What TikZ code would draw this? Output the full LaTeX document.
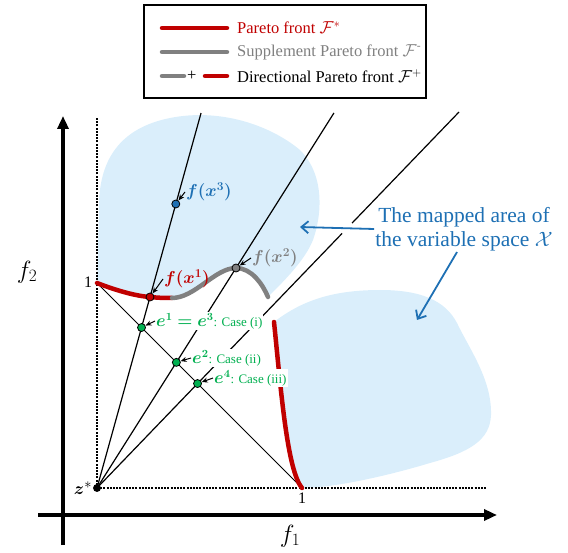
\documentclass[tikz,border=0pt]{standalone}
\usepackage{amsmath}
\usepackage{amssymb}
\usepackage{bm}
\usepackage{fontspec}
\setmainfont{Liberation Serif}
\usepackage{xcolor}
\usepackage{tikz}
\usetikzlibrary{arrows.meta, calc}

\definecolor{pfred}{RGB}{192,0,0}
\definecolor{pfgray}{RGB}{128,128,128}
\definecolor{areablue}{RGB}{218,238,251}
\definecolor{txtblue}{RGB}{30,112,180}
\definecolor{egreen}{RGB}{0,176,80}

\begin{document}
\begin{tikzpicture}[
  x=1pt, y=-1pt,
  >=stealth,
  front/.style={line width=4.5pt, line cap=round},
  ray/.style={line width=1.2pt},
  guide/.style={line width=1.3pt, dash pattern=on 2pt off 1.2pt},
  axisline/.style={line width=3.5pt, -{Triangle[length=13pt, width=11pt]}},
  dot/.style={circle, draw, line width=0.8pt, inner sep=0pt, minimum size=8pt},
  pointer/.style={line width=1pt, -{Stealth[length=6pt, width=5pt]}},
  ptlabel/.style={anchor=west, inner sep=1pt, font=\fontsize{18}{20}\selectfont},
  caselabel/.style={anchor=west, inner sep=1pt, fill=white, text=egreen, font=\fontsize{16}{18}\selectfont},
  maparrow/.style={line width=1.8pt, draw=txtblue, -{Straight Barb[length=7pt, width=12pt]}},
  legtext/.style={anchor=west, inner sep=0pt, font=\fontsize{16.5}{19}\selectfont},
]
  \useasboundingbox (0,0) rectangle (568,553);

  \coordinate (z) at (97,488);
  \coordinate (one1) at (302,488);
  \coordinate (one2) at (97,283);
  \coordinate (fx1) at (150,297);
  \coordinate (fx2) at (236,268);
  \coordinate (fx3) at ($(z)!1.487!(fx1)$);
  \coordinate (r3) at (459,112);

  % mapped areas
  \fill[areablue] (one2) -- (99,210) .. controls (98,160) and (120,128) .. (170,118)
    .. controls (220,108) and (270,125) .. (300,150)
    .. controls (325,175) and (322,215) .. (313,240)
    .. controls (305,260) and (285,280) .. (268,297)
    .. controls (263,285) and (252,268) .. (fx2)
    .. controls (215,268) and (195,298) .. (172,298)
    .. controls (166,298) and (160,298) .. (fx1)
    .. controls (135,296) and (115,290) .. (one2) -- cycle;
  \fill[areablue] (274,322) .. controls (300,302) and (330,290) .. (380,290)
    .. controls (420,290) and (445,300) .. (457,323)
    .. controls (470,350) and (492,380) .. (491,415)
    .. controls (490,440) and (470,452) .. (430,463)
    .. controls (380,478) and (330,488) .. (one1)
    .. controls (287,470) and (281,390) .. (274,322) -- cycle;

  % guides and axes
  \draw[guide] (z) -- (97,118);
  \draw[guide] (z) -- (487,488);
  \draw[axisline] (63,545) -- (63,116);
  \draw[axisline] (38,515) -- (497,515);

  % rays and the unit line
  \draw[line width=1pt] (one2) -- (one1);
  \draw[ray] (z) -- ($(z)!1.963!(fx1)$);
  \draw[ray] (z) -- ($(z)!1.7045!(fx2)$);
  \draw[ray] (z) -- (r3);

  \coordinate (e1) at (intersection of z--fx1 and one2--one1);
  \coordinate (e2) at (intersection of z--fx2 and one2--one1);
  \coordinate (e4) at (intersection of z--r3 and one2--one1);

  % fronts
  \draw[front, pfred] (one2) .. controls (115,290) and (135,296) .. (fx1)
    .. controls (160,298) and (166,298) .. (172,298);
  \draw[front, pfgray] (172,298) .. controls (195,298) and (215,268) .. (fx2)
    .. controls (252,268) and (263,285) .. (268,297);
  \draw[front, pfred] (274,322) .. controls (281,390) and (287,470) .. (one1);

  % points
  \node[dot, fill=black, minimum size=7pt] (zd) at (z) {};
  \node[dot, fill=txtblue] (fx3d) at (fx3) {};
  \node[dot, fill=pfred] (fx1d) at (fx1) {};
  \node[dot, fill=pfgray] (fx2d) at (fx2) {};
  \node[dot, fill=egreen] (e1d) at (e1) {};
  \node[dot, fill=egreen] (e2d) at (e2) {};
  \node[dot, fill=egreen] (e4d) at (e4) {};

  \node[ptlabel, text=txtblue] (lbx3) at (185,192) {$\boldsymbol{f(x^3)}$};
  \node[ptlabel, text=pfred] (lbx1) at (163,279) {$\boldsymbol{f(x^1)}$};
  \node[ptlabel, text=pfgray] (lbx2) at (251,258) {$\boldsymbol{f(x^2)}$};
  \node[caselabel] (lbe1) at (155,321) {$\boldsymbol{e^1=e^3}${\fontsize{13}{15}\selectfont: Case (i)}};
  \node[caselabel] (lbe2) at (191,358) {$\boldsymbol{e^2}${\fontsize{13}{15}\selectfont: Case (ii)}};
  \node[caselabel] (lbe4) at (213,378) {$\boldsymbol{e^4}${\fontsize{13}{15}\selectfont: Case (iii)}};

  \draw[pointer] (lbx3.west) -- (fx3d);
  \draw[pointer] (lbx1.west) -- (fx1d);
  \draw[pointer] (lbx2.west) -- (fx2d);
  \draw[pointer] (lbe1.west) -- (e1d);
  \draw[pointer] (lbe2.west) -- (e2d);
  \draw[pointer] (lbe4.west) -- (e4d);

  % axis texts
  \node[font=\fontsize{26}{28}\selectfont] (f1) at (290,536) {$f_1$};
  \node[font=\fontsize{26}{28}\selectfont] (f2) at (27,272) {$f_2$};
  \node[font=\fontsize{16}{18}\selectfont] (lb1x) at (302,498) {1};
  \node[font=\fontsize{16}{18}\selectfont] (lb1y) at (88,282) {1};
  \node[font=\fontsize{19}{21}\selectfont] (lbz) at (83,488) {$\boldsymbol{z}^*$};

  % annotation
  \node[text=txtblue, align=center, inner sep=1pt, font=\fontsize{21.5}{24}\selectfont] (maptxt) at (464,229)
    {The mapped area of\\the variable space $\mathcal{X}$};
  \coordinate (area1) at (300,227);
  \coordinate (area2) at (417,320);
  \coordinate (cross) at (intersection of z--r3 and maptxt.west--area1);
  \draw[white, line width=5pt] ($(cross)!7pt!(z)$) -- ($(cross)!7pt!(r3)$);
  \draw[maparrow] (maptxt.west) -- (area1);
  \draw[maparrow] ([xshift=-7pt]maptxt.south) -- (area2);

  % legend
  \node[draw, line width=1.2pt, inner sep=0pt, minimum width=282pt, minimum height=93pt] (legend) at (285,51.5) {};
  \draw[front, pfred] (162,28) -- (227,28);
  \draw[front, pfgray] (162,52) -- (227,52);
  \draw[front, pfgray] (162,76) -- (184,76);
  \draw[front, pfred] (205,76) -- (227,76);
  \node[legtext] (plus) at (187,76) {+};
  \node[legtext, text=pfred] (leg1) at (237,28) {Pareto front $\mathcal{F}^*$};
  \node[legtext, text=pfgray] (leg2) at (237,52) {Supplement Pareto front $\mathcal{F}^{\text{-}}$};
  \node[legtext] (leg3) at (237,76) {Directional Pareto front $\mathcal{F}^{+}$};

\end{tikzpicture}
\end{document}
